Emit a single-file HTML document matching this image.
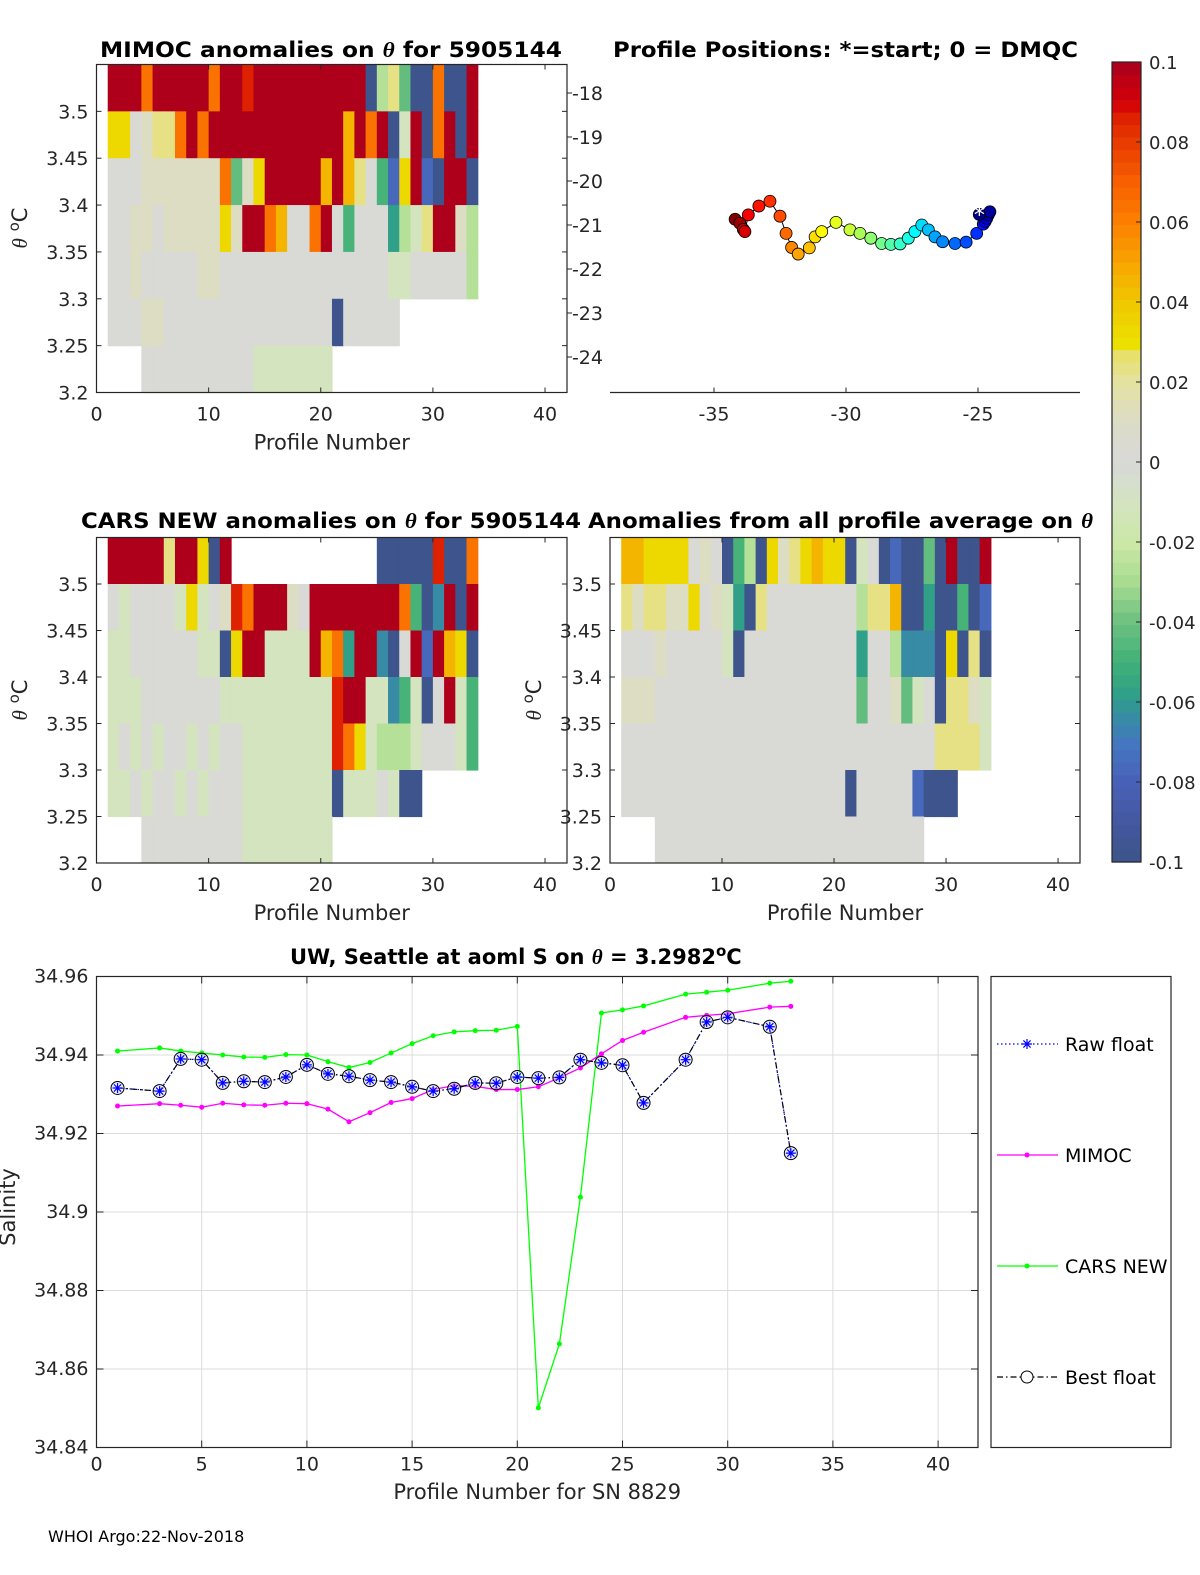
<!DOCTYPE html>
<html><head><meta charset="utf-8"><style>
body{margin:0;background:#fff;}
svg{display:block;font-family:"DejaVu Sans","Liberation Sans",sans-serif;}
</style></head><body>
<svg id="fig" width="1200" height="1575" viewBox="0 0 1200 1575" xmlns="http://www.w3.org/2000/svg">
<rect width="1200" height="1575" fill="#fff"/>
<g id="layer"></g>
<text x="48" y="1542" font-size="16" fill="#000">WHOI Argo:22-Nov-2018</text>
</svg>
<script>
// ---------- DATA ----------
// heatmap cell codes (rows listed top θ-bin 3.50-3.55 down to 3.20-3.25), one char per profile 1..33
const codeValues = {R:0.1,r:0.085,O:0.065,o:0.045,Y:0.033,y:0.022,g:0.01,G:0,l:-0.012,L:-0.028,m:-0.042,M:-0.05,t:-0.058,c:-0.065,b:-0.078,B:-0.1};
const mimocRows = [
 "RRRORRRRRORRrRRRRRRRRRRBLymBBOBBR",
 "YYGgyyORORRRRRRRRRRRRoRORBlRBORBR",
 "GGGgggggggOmgYRRRRRoRoyGMbYRbBRRB",
 "GGggGgggggYgRROoGGORGMGGGtLlyRRgL",
 "GGgGGGGGggGGGGGGGGGGGGGGGllGGGGGL",
 "GGGggGGGGGGGGGGGGGGGBGGGGG.......",
 "...GGGGGGGGGGlllllll............."];
const carsRows = [
 "RRRRRyRRYBR.............BBBBBrBBO",
 "GlGGGGlYlGgrORRRgGRRRRRRRROMBcRBR",
 "llGGGGGGllBYRRllllRoOtRRcBGRbRoYB",
 "lllGGGGGGGllllllllllrRRllcMlBGRlM",
 "lGlGlGGlGlGGllllllllrOYlLLLlGGGlM",
 "llGlGGlGlGGGllllllllBlllGlBB.....",
 "...GGGGGGGGGllllllll............."];
const avgRows = [
 "ooYYYYGgGBMLBYgyYoYYBlGBbBBmBRBBR",
 "ygyyggYGgltByGGGGGGGGLyyoBBtBBMBb",
 "GGGgGGGGGlBGGGGGGGGGGtGGLcccBYByB",
 "gggGGGGGGGGGGGGGGGGGGmGGgmlGByygl",
 "GGGGGGGGGGGGGGGGGGGGGGGGGGGGyyyyl",
 "GGGGGGGGGGGGGGGGGGGGBGGGGGbBBB...",
 "...GGGGGGGGGGGGGGGGGGGGGGGG....."+"."];
const thetaBins = [3.5,3.45,3.4,3.35,3.3,3.25,3.2];
// profile positions (start first)
const posLon = [-24.95,-24.55,-24.61,-24.67,-24.73,-24.80,-25.05,-25.45,-25.87,-26.34,-26.63,-26.88,-27.13,-27.39,-27.64,-27.95,-28.30,-28.65,-29.06,-29.47,-29.85,-30.38,-30.92,-31.17,-31.39,-31.81,-32.06,-32.27,-32.50,-32.88,-33.30,-33.70,-33.83,-33.89,-34.02,-34.20];
const posLat = [-20.76,-20.70,-20.77,-20.85,-20.92,-20.98,-21.19,-21.39,-21.42,-21.38,-21.27,-21.11,-21.00,-21.15,-21.30,-21.43,-21.44,-21.42,-21.30,-21.19,-21.11,-20.94,-21.15,-21.27,-21.52,-21.66,-21.51,-21.19,-20.80,-20.46,-20.57,-20.77,-21.15,-21.10,-20.96,-20.87];
// salinity time series
const profiles = [1,3,4,5,6,7,8,9,10,11,12,13,14,15,16,17,18,19,20,21,22,23,24,25,26,28,29,30,32,33];
const bestS = [34.9316,34.9308,34.9390,34.9388,34.9329,34.9333,34.9331,34.9344,34.9375,34.9352,34.9346,34.9336,34.9331,34.9319,34.9308,34.9314,34.9329,34.9328,34.9344,34.9341,34.9343,34.9388,34.9380,34.9374,34.9278,34.9388,34.9484,34.9496,34.9472,34.9150];
const mimocS = [34.9270,34.9276,34.9272,34.9267,34.9277,34.9273,34.9272,34.9277,34.9276,34.9262,34.9230,34.9253,34.9279,34.9289,34.9312,34.9322,34.9320,34.9312,34.9312,34.9319,34.9342,34.9367,34.9403,34.9437,34.9458,34.9496,34.9501,34.9505,34.9522,34.9524];
const carsS = [34.9410,34.9418,34.9410,34.9405,34.9400,34.9395,34.9394,34.9401,34.9400,34.9383,34.9368,34.9381,34.9405,34.9429,34.9449,34.9459,34.9462,34.9463,34.9473,34.8501,34.8664,34.9038,34.9507,34.9515,34.9525,34.9555,34.9560,34.9565,34.9583,34.9588];
const thetaTicks = [3.2,3.25,3.3,3.35,3.4,3.45,3.5];
const profTicks = [0,10,20,30,40];
const lonTicks = [-35,-30,-25];
const latTicks = [-18,-19,-20,-21,-22,-23,-24];
const salTicks = [34.84,34.86,34.88,34.9,34.92,34.94,34.96];
const profTicks5 = [0,5,10,15,20,25,30,35,40];
const cbTicks = [0.1,0.08,0.06,0.04,0.02,0,-0.02,-0.04,-0.06,-0.08,-0.1];
const cmapStops = [[-0.1,"#3c5488"],[-0.09,"#4458a0"],[-0.08,"#4860b8"],[-0.07,"#4478c0"],[-0.065,"#3888a8"],[-0.058,"#30a088"],[-0.05,"#40b078"],[-0.04,"#6cc080"],[-0.03,"#a8dc90"],[-0.02,"#cce8a8"],[-0.01,"#d4e4c0"],[0,"#d8d8d8"],[0.01,"#dcdcc8"],[0.02,"#e4e2a0"],[0.028,"#e8e060"],[0.0295,"#ece000"],[0.04,"#f0c800"],[0.05,"#f8a400"],[0.06,"#fc8000"],[0.07,"#f86000"],[0.085,"#e02800"],[0.09,"#d40008"],[0.1,"#a8001e"]];

// ---------- HELPERS ----------
const NS="http://www.w3.org/2000/svg";
const layer=document.getElementById('layer');
function mk(tag,attrs,parent){const e=document.createElementNS(NS,tag);for(const k in attrs)e.setAttribute(k,attrs[k]);(parent||layer).appendChild(e);return e;}
function hex2rgb(h){return [parseInt(h.substr(1,2),16),parseInt(h.substr(3,2),16),parseInt(h.substr(5,2),16)];}
function cmap(v){
  v=Math.max(-0.1,Math.min(0.1,v));
  const q=Math.min(63,Math.floor((v+0.1)/0.2*64)); v=-0.1+(q+0.5)*0.2/64;
  for(let i=0;i<cmapStops.length-1;i++){const a=cmapStops[i],b=cmapStops[i+1];
    if(v>=a[0]&&v<=b[0]){const t=(v-a[0])/(b[0]-a[0]);const c1=hex2rgb(a[1]),c2=hex2rgb(b[1]);
      return "rgb("+c1.map((c,j)=>Math.round(c+(c2[j]-c)*t)).join(",")+")";}}
  return "#d8d8d8";
}
function jet(t){const r=Math.max(0,Math.min(1,1.5-Math.abs(4*t-3))),g=Math.max(0,Math.min(1,1.5-Math.abs(4*t-2))),b=Math.max(0,Math.min(1,1.5-Math.abs(4*t-1)));return "rgb("+[r,g,b].map(x=>Math.round(x*255)).join(",")+")";}
function txt(x,y,s,size,anchor,extra){const e=mk('text',Object.assign({x:x,y:y,'font-size':size,'text-anchor':anchor||'middle',fill:'#262626'},extra||{}));e.textContent=s;return e;}

// ---------- HEATMAP PANELS ----------
function heatPanel(L,R,T,B,rows,name,ylabel,title,tx1,tx2,ty){
  const xs=v=>L+v*(R-L)/41.96, ys=v=>B-(v-3.2)*(B-T)/0.35;
  const g=mk('g',{});
  
  
  rows.forEach((row,ri)=>{
    const lo=thetaBins[ri];
    for(let i=0;i<33;i++){const ch=row[i]; if(!ch||ch==='.')continue;
      const c=mk('rect',{x:xs(i+1),y:ys(lo+0.05),width:xs(i+2)-xs(i+1)+0.6,height:ys(lo)-ys(lo+0.05)+0.6,fill:cmap(codeValues[ch])},g);
      
      
    }
  });
  mk('rect',{x:L,y:T,width:R-L,height:B-T,fill:'none',stroke:'#262626','stroke-width':1.2},g);
  thetaTicks.forEach(v=>{const y=ys(v);mk('line',{x1:L,x2:L+5,y1:y,y2:y,stroke:'#262626'},g);mk('line',{x1:R,x2:R-5,y1:y,y2:y,stroke:'#262626'},g);
    const t=txt(L-8,y+7,String(v),19,'end');});
  profTicks.forEach(v=>{const x=xs(v);mk('line',{x1:x,x2:x,y1:B,y2:B-5,stroke:'#262626'},g);mk('line',{x1:x,x2:x,y1:T,y2:T+5,stroke:'#262626'},g);
    const t=txt(x,B+28,String(v),19);});
  const xl=txt((L+R)/2,B+57,'Profile Number',21);
  if(ylabel){const yl=txt(0,0,'',21,'middle',{transform:'translate('+ylabel[0]+','+ylabel[1]+') rotate(-90)'});
    yl.innerHTML='<tspan font-style="italic" font-family="Liberation Serif,serif">θ</tspan> <tspan dy="-8" font-size="15">o</tspan><tspan dy="8">C</tspan>';
    }
  const tt=mk('text',{x:tx1,y:ty,'font-size':21,'font-weight':'bold',fill:'#000',textLength:tx2-tx1,lengthAdjust:'spacingAndGlyphs'});
  tt.innerHTML=title;
}
heatPanel(96.5,567,64.5,392.5,mimocRows,'mimoc-anomaly-panel',[27,228],'MIMOC anomalies on <tspan font-style="italic" font-family="Liberation Serif,serif">θ</tspan>  for 5905144',100,562,57);
heatPanel(96.5,567,537.5,863,carsRows,'cars-anomaly-panel',[27,700],'CARS NEW anomalies on <tspan font-style="italic" font-family="Liberation Serif,serif">θ</tspan> for 5905144',81,581,528);
heatPanel(610,1080,537.5,863,avgRows,'average-anomaly-panel',[541,700],'Anomalies from all profile average on <tspan font-style="italic" font-family="Liberation Serif,serif">θ</tspan>',588,1093,528);

// ---------- POSITIONS PANEL ----------
(function(){
  const L=610,R=1080,T=64.5,B=392.5;
  const xs=v=>714+(v+35)*26.4, ys=v=>225-(v+21)*44;
  const g=mk('g',{});
  
  
  mk('line',{x1:L,x2:R,y1:B,y2:B,stroke:'#262626','stroke-width':1.2},g);
  lonTicks.forEach(v=>{const x=xs(v);mk('line',{x1:x,x2:x,y1:B,y2:B-5,stroke:'#262626'},g);
    const t=txt(x,B+28,String(v),19);});
  latTicks.forEach(v=>{const y=ys(v);mk('line',{x1:567,x2:572,y1:y,y2:y,stroke:'#262626'},g);
    const t=txt(603,y+7,String(v),19,'end');});
  const pts=posLon.map((v,i)=>xs(v)+','+ys(posLat[i])).join(' ');
  mk('polyline',{points:pts,fill:'none',stroke:'#000','stroke-width':1},g);
  for(let i=posLon.length-1;i>=0;i--){
    const c=mk('circle',{cx:xs(posLon[i]),cy:ys(posLat[i]),r:6,fill:jet(i/(posLon.length-1)),stroke:'#000','stroke-width':0.8},g);
    
    
  }
  const sx=xs(posLon[0]),sy=ys(posLat[0]);
  const st=mk('text',{x:sx,y:sy+8,'font-size':22,'text-anchor':'middle',fill:'#fff'},g);st.textContent='*';
  
  const tt=mk('text',{x:613,y:57,'font-size':21,'font-weight':'bold',fill:'#000',textLength:465,lengthAdjust:'spacingAndGlyphs'},g);
  tt.textContent='Profile Positions: *=start; 0 = DMQC';
})();

// ---------- COLORBAR ----------
(function(){
  const L=1112,R=1141,T=62,B=862;
  const g=mk('g',{});
  
  
  for(let q=0;q<64;q++){const v=-0.1+(q+0.5)*0.2/64;const y0=B-(q+1)*(B-T)/64;
    mk('rect',{x:L,y:y0,width:R-L,height:(B-T)/64+0.6,fill:cmap(v)},g);}
  mk('rect',{x:L,y:T,width:R-L,height:B-T,fill:'none',stroke:'#262626','stroke-width':1.2},g);
  cbTicks.forEach(v=>{const y=B-(v+0.1)/0.2*(B-T);mk('line',{x1:R,x2:R-5,y1:y,y2:y,stroke:'#262626'},g);
    const t=txt(1149,y+7,String(v),18,'start');});
})();

// ---------- SALINITY PANEL ----------
(function(){
  const L=96.5,R=978,T=976.5,B=1447.5;
  const xs=v=>L+v*21.04, ys=v=>T+(34.96-v)/0.12*(B-T);
  const g=mk('g',{});
  
  
  profTicks5.forEach(v=>{if(v>0)mk('line',{x1:xs(v),x2:xs(v),y1:T,y2:B,stroke:'#dcdcdc'},g);});
  salTicks.forEach(v=>{mk('line',{x1:L,x2:R,y1:ys(v),y2:ys(v),stroke:'#dcdcdc'},g);});
  mk('rect',{x:L,y:T,width:R-L,height:B-T,fill:'none',stroke:'#262626','stroke-width':1.2},g);
  profTicks5.forEach(v=>{const x=xs(v);mk('line',{x1:x,x2:x,y1:B,y2:B-7,stroke:'#262626'},g);mk('line',{x1:x,x2:x,y1:T,y2:T+7,stroke:'#262626'},g);
    const t=txt(x,B+23,String(v),19);});
  salTicks.forEach(v=>{const y=ys(v);mk('line',{x1:L,x2:L+7,y1:y,y2:y,stroke:'#262626'},g);mk('line',{x1:R,x2:R-7,y1:y,y2:y,stroke:'#262626'},g);
    const t=txt(L-8,y+6,String(v),19,'end');});
  function line(arr,color,dash,w,name){const p=mk('polyline',{points:profiles.map((pr,i)=>xs(pr)+','+ys(arr[i])).join(' '),fill:'none',stroke:color,'stroke-width':w,'stroke-dasharray':dash||'none'},g);
    }
  line(carsS,'#00ff00',null,1.3,'cars-new-line');
  line(mimocS,'#ff00ff',null,1.3,'mimoc-line');
  line(bestS,'#0000ff','1.5 2.5',1.2,'raw-float-line');
  line(bestS,'#000','6 3 1.5 3',1.2,'best-float-line');
  profiles.forEach((pr,i)=>{
    const a=mk('circle',{cx:xs(pr),cy:ys(carsS[i]),r:2.5,fill:'#00ff00'},g);
    const b=mk('circle',{cx:xs(pr),cy:ys(mimocS[i]),r:2.5,fill:'#ff00ff'},g);
    const x=xs(pr),y=ys(bestS[i]);
    const c=mk('circle',{cx:x,cy:y,r:6.5,fill:'#d8dcff','fill-opacity':0.5,stroke:'#000','stroke-width':1},g);
    const s=mk('path',{d:'M'+(x-5)+' '+y+'h10M'+x+' '+(y-5)+'v10M'+(x-3.6)+' '+(y-3.6)+'l7.2 7.2M'+(x-3.6)+' '+(y+3.6)+'l7.2 -7.2',stroke:'#0000ff','stroke-width':1.2},g);
    
  });
  const xl=txt((L+R)/2,1499,'Profile Number for SN 8829',21);
  const yl=txt(0,0,'Salinity',21,'middle',{transform:'translate(15,1207) rotate(-90)'});
  const tt=mk('text',{x:290,y:964,'font-size':21,'font-weight':'bold',fill:'#000'},g);
  tt.innerHTML='UW, Seattle at aoml S on <tspan font-style="italic" font-family="Liberation Serif,serif">θ</tspan> = 3.2982<tspan dy="-8" font-size="15">o</tspan><tspan dy="8">C</tspan>';
  
  // legend
  const lg=mk('g',{});
  
  
  mk('rect',{x:991,y:976.5,width:180,height:471,fill:'#fff',stroke:'#262626','stroke-width':1.2},lg);
  const ents=[['Raw float','#0000ff','1.5 2.5',1044],['MIMOC','#ff00ff','none',1155],['CARS NEW','#00ff00','none',1266],['Best float','#000','6 3 1.5 3',1377]];
  ents.forEach(e=>{const eg=mk('g',{},lg);
    
    
    mk('line',{x1:997,x2:1058,y1:e[3],y2:e[3],stroke:e[1],'stroke-width':1.2,'stroke-dasharray':e[2]},eg);
    if(e[0]==='Raw float')mk('path',{d:'M1022 '+e[3]+'h10M1027 '+(e[3]-5)+'v10M1023.4 '+(e[3]-3.6)+'l7.2 7.2M1023.4 '+(e[3]+3.6)+'l7.2 -7.2',stroke:'#0000ff','stroke-width':1.2},eg);
    if(e[0]==='MIMOC'||e[0]==='CARS NEW')mk('circle',{cx:1027,cy:e[3],r:2.5,fill:e[1]},eg);
    if(e[0]==='Best float')mk('circle',{cx:1027,cy:e[3],r:6,fill:'#fff',stroke:'#000'},eg);
    const t=mk('text',{x:1065,y:e[3]+7,'font-size':19,fill:'#000'},eg);t.textContent=e[0];});
})();
</script>
</body></html>
